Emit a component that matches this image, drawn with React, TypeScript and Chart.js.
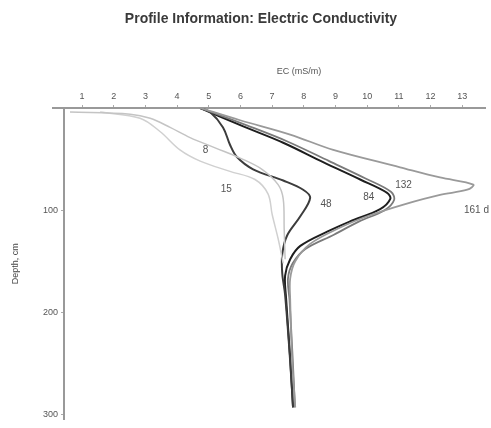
import React, { useEffect, useRef } from "react";
import { Chart, registerables } from "chart.js";

Chart.register(...registerables);

// ---- data ----
const xTickValues = [1, 2, 3, 4, 5, 6, 7, 8, 9, 10, 11, 12, 13];
const yTickValues = [100, 200, 300];

const ec8 = [0.62, 2.52, 3.15, 3.78, 4.41, 5.2, 5.99, 6.68, 7.19, 7.35, 7.38, 7.41];
const depth8 = [4, 6, 10, 19, 29, 39, 49, 60, 75, 89, 118, 148];

const ec15 = [1.57, 2.83, 3.46, 4.09, 4.73, 5.67, 6.46, 6.87, 7.0, 7.19, 7.35];
const depth15 = [4, 10, 23, 41, 52, 62, 70, 84, 104, 128, 152];

const ec48 = [4.73, 5.04, 5.45, 5.67, 5.89, 6.4, 7.35, 7.98, 8.2, 7.89, 7.47, 7.32, 7.32, 7.41, 7.57, 7.66];
const depth48 = [0, 4, 19, 36, 48, 60, 71, 80, 88, 106, 125, 143, 162, 183, 248, 293];

const ec84 = [4.73, 6.09, 7.35, 8.61, 9.78, 10.63, 10.73, 10.41, 9.46, 8.74, 7.89, 7.57, 7.41, 7.44, 7.57, 7.66];
const depth84 = [0, 18, 34, 53, 70, 83, 89, 99, 111, 121, 135, 148, 164, 186, 245, 293];

const ec132 = [4.73, 6.2, 7.5, 8.8, 9.95, 10.75, 10.85, 10.55, 9.75, 8.95, 8.05, 7.65, 7.5, 7.55, 7.65, 7.72];
const depth132 = [0, 17, 33, 52, 69, 82, 90, 100, 111, 124, 138, 152, 167, 188, 246, 293];

const ec161 = [4.73, 5.99, 7.57, 8.93, 11.04, 12.3, 13.35, 13.16, 12.3, 11.2, 10.09, 9.15, 8.2, 7.73, 7.57, 7.57, 7.63, 7.73];
const depth161 = [0, 12, 26, 41, 58, 68, 75, 80, 85, 94, 105, 117, 133, 150, 167, 187, 245, 293];

const curveNames = ["8", "15", "48", "84", "132", "161 d"];
const labelEC = [4.9, 5.55, 8.7, 10.05, 11.15, 13.45];
const labelDepth = [41, 80, 94, 87, 76, 100];

const chartTitle = "Profile Information: Electric Conductivity";
const xTitle = "EC (mS/m)";
const yTitle = "Depth, cm";

const toPoints = (xs: number[], ys: number[]) => xs.map((x, i) => ({ x, y: ys[i] }));

export default function App() {
  const ref = useRef<HTMLCanvasElement | null>(null);

  useEffect(() => {
    if (!ref.current) return;
    const textPlugin = {
      id: "textPlugin",
      afterDraw(chart: any) {
        const ctx = chart.ctx;
        const xs = chart.scales.x;
        const ys = chart.scales.y;
        ctx.save();
        ctx.textAlign = "center";
        ctx.textBaseline = "middle";
        ctx.fillStyle = "#3a3a3a";
        ctx.font = "bold 14px 'Liberation Sans', Arial, sans-serif";
        ctx.fillText(chartTitle, 261, 19);
        ctx.font = "9px 'Liberation Sans', Arial, sans-serif";
        ctx.fillStyle = "#555";
        ctx.fillText(xTitle, xs.getPixelForValue(7.85), 72);
        ctx.font = "10px 'Liberation Sans', Arial, sans-serif";
        ctx.fillStyle = "#555";
        curveNames.forEach((n, i) => {
          ctx.fillText(n, xs.getPixelForValue(labelEC[i]), ys.getPixelForValue(labelDepth[i]));
        });
        // small overhang of the top axis line to the left of the y axis
        ctx.strokeStyle = "#999";
        ctx.lineWidth = 2;
        ctx.beginPath();
        ctx.moveTo(52, chart.chartArea.top);
        ctx.lineTo(chart.chartArea.left, chart.chartArea.top);
        ctx.stroke();
        ctx.restore();
      },
    };

    const mk = (label: string, xs: number[], ys: number[], color: string, w: number) => ({
      label,
      data: toPoints(xs, ys),
      showLine: true,
      borderColor: color,
      backgroundColor: color,
      borderWidth: w,
      pointRadius: 0,
      tension: 0.35,
      fill: false,
    });

    const chart = new Chart(ref.current, {
      type: "scatter",
      data: {
        datasets: [
          mk("8", ec8, depth8, "#c4c4c4", 1.5),
          mk("15", ec15, depth15, "#d0d0d0", 1.5),
          mk("161 d", ec161, depth161, "#9a9a9a", 1.8),
          mk("132", ec132, depth132, "#7a7a7a", 1.8),
          mk("48", ec48, depth48, "#3c3c3c", 2),
          mk("84", ec84, depth84, "#1e1e1e", 2),
        ],
      },
      options: {
        animation: false,
        responsive: false,
        maintainAspectRatio: false,
        layout: { padding: { left: 0, right: 6, top: 0, bottom: 6 } },
        plugins: {
          legend: { display: false },
          tooltip: { enabled: false },
          title: { display: false },
        },
        scales: {
          x: {
            type: "linear",
            position: "top",
            min: 0.43,
            max: 13.72,
            afterBuildTicks: (s: any) => {
              s.ticks = xTickValues.map((v) => ({ value: v }));
            },
            afterFit: (s: any) => {
              s.height = 108;
            },
            ticks: {
              font: { size: 9, family: "'Liberation Sans', Arial, sans-serif" },
              color: "#555",
              padding: 3,
              maxRotation: 0,
              autoSkip: false,
            },
            grid: { display: true, drawOnChartArea: false, tickLength: 3, color: "#aaa" },
            border: { display: true, color: "#999", width: 2 },
          },
          y: {
            type: "linear",
            reverse: true,
            min: 0,
            max: 305,
            afterBuildTicks: (s: any) => {
              s.ticks = yTickValues.map((v) => ({ value: v }));
            },
            afterFit: (s: any) => {
              s.width = 64;
            },
            ticks: {
              font: { size: 9, family: "'Liberation Sans', Arial, sans-serif" },
              color: "#555",
              padding: 3,
            },
            title: {
              display: true,
              text: yTitle,
              font: { size: 9, family: "'Liberation Sans', Arial, sans-serif" },
              color: "#444",
              padding: { top: 10, bottom: 0 },
            },
            grid: { display: true, drawOnChartArea: false, tickLength: 3, color: "#aaa" },
            border: { display: true, color: "#999", width: 2 },
          },
        },
      },
      plugins: [textPlugin],
    });
    return () => chart.destroy();
  }, []);

  return (
    <div style={{ position: "fixed", left: 0, top: 0, width: 491, height: 428, background: "#fff" }}>
      <canvas ref={ref} width={491} height={428} style={{ width: 491, height: 428, display: "block" }} />
    </div>
  );
}
